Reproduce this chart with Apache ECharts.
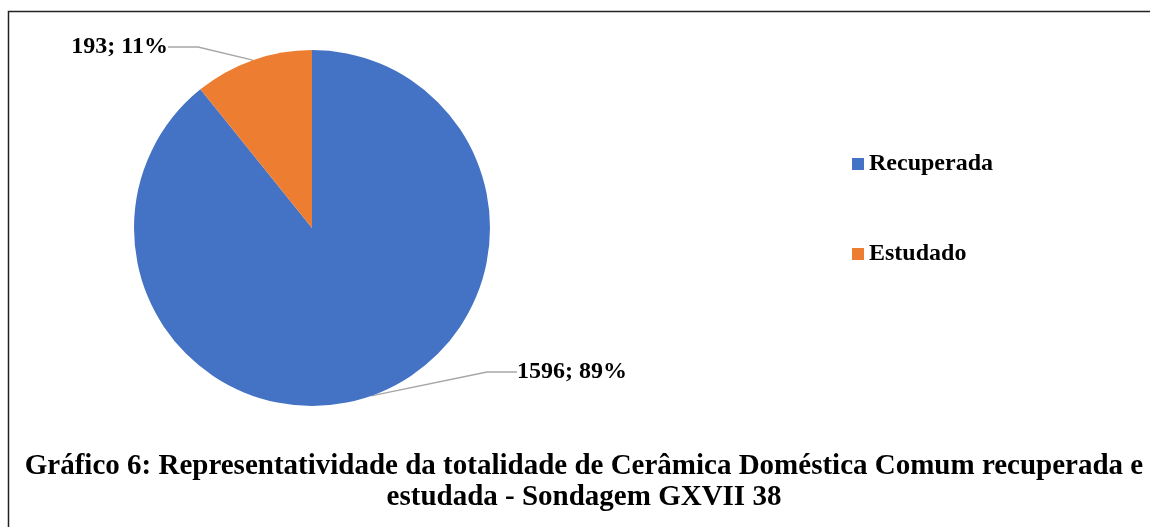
<!DOCTYPE html>
<html>
<head>
<meta charset="utf-8">
<script src="https://cdn.jsdelivr.net/npm/echarts@6/dist/echarts.min.js"></script>
<style>
  html, body { margin: 0; padding: 0; background: #fff; }
  #main { width: 1150px; height: 527px; }
</style>
</head>
<body>
<div id="main"></div>
<script>
// dados do gráfico
var categorias = ['Recuperada', 'Estudado'];
var valores = [1596, 193];
var percentuais = ['89%', '11%'];
var cores = ['#4472C4', '#ED7D31'];
var tituloLinhas = [
  'Gráfico 6: Representatividade da totalidade de Cerâmica Doméstica Comum recuperada e',
  'estudada - Sondagem GXVII 38'
];

var fonte = '"Liberation Serif", "Times New Roman", serif';
var myChart = echarts.init(document.getElementById('main'));

var dados = [];
for (var i = 0; i < categorias.length; i++) {
  dados.push({ name: categorias[i], value: valores[i], pct: percentuais[i] });
}

// posições dos rótulos (como no original)
var posRotulos = [
  { x: 517, y: 372, align: 'left' },
  { x: 168, y: 47, align: 'right' }
];

var option = {
  animation: false,
  color: cores,
  legend: {
    orient: 'vertical',
    left: 852,
    top: 152,
    padding: 0,
    itemWidth: 12,
    itemHeight: 12,
    itemGap: 66,
    icon: 'rect',
    selectedMode: false,
    data: categorias,
    textStyle: {
      fontFamily: fonte,
      fontWeight: 'bold',
      fontSize: 24,
      lineHeight: 24,
      color: '#000'
    }
  },
  graphic: [
    {
      type: 'rect',
      shape: { x: 8.5, y: 11.5, width: 1200, height: 600 },
      style: { fill: 'none', stroke: '#222', lineWidth: 1.5 },
      silent: true
    },
    {
      type: 'text',
      x: 584,
      y: 467,
      style: {
        text: tituloLinhas[0],
        fontFamily: fonte,
        fontWeight: 'bold',
        fontSize: 29,
        fill: '#000',
        textAlign: 'center',
        textVerticalAlign: 'middle'
      }
    },
    {
      type: 'text',
      x: 584,
      y: 498,
      style: {
        text: tituloLinhas[1],
        fontFamily: fonte,
        fontWeight: 'bold',
        fontSize: 29,
        fill: '#000',
        textAlign: 'center',
        textVerticalAlign: 'middle'
      }
    }
  ],
  series: [{
    type: 'pie',
    center: [312, 228],
    radius: 178,
    startAngle: 90,
    clockwise: true,
    data: dados,
    itemStyle: { borderWidth: 0 },
    label: {
      show: true,
      position: 'outside',
      formatter: function(p) {
        return p.value + '; ' + p.data.pct;
      },
      fontFamily: fonte,
      fontWeight: 'bold',
      fontSize: 24,
      color: '#000'
    },
    labelLine: {
      show: true,
      lineStyle: { color: '#A6A6A6', width: 1.5 }
    },
    labelLayout: function(params) {
      var p = posRotulos[params.dataIndex];
      return { x: p.x, y: p.y, align: p.align, verticalAlign: 'middle' };
    },
    emphasis: { disabled: true }
  }]
};

myChart.setOption(option);
</script>
</body>
</html>
